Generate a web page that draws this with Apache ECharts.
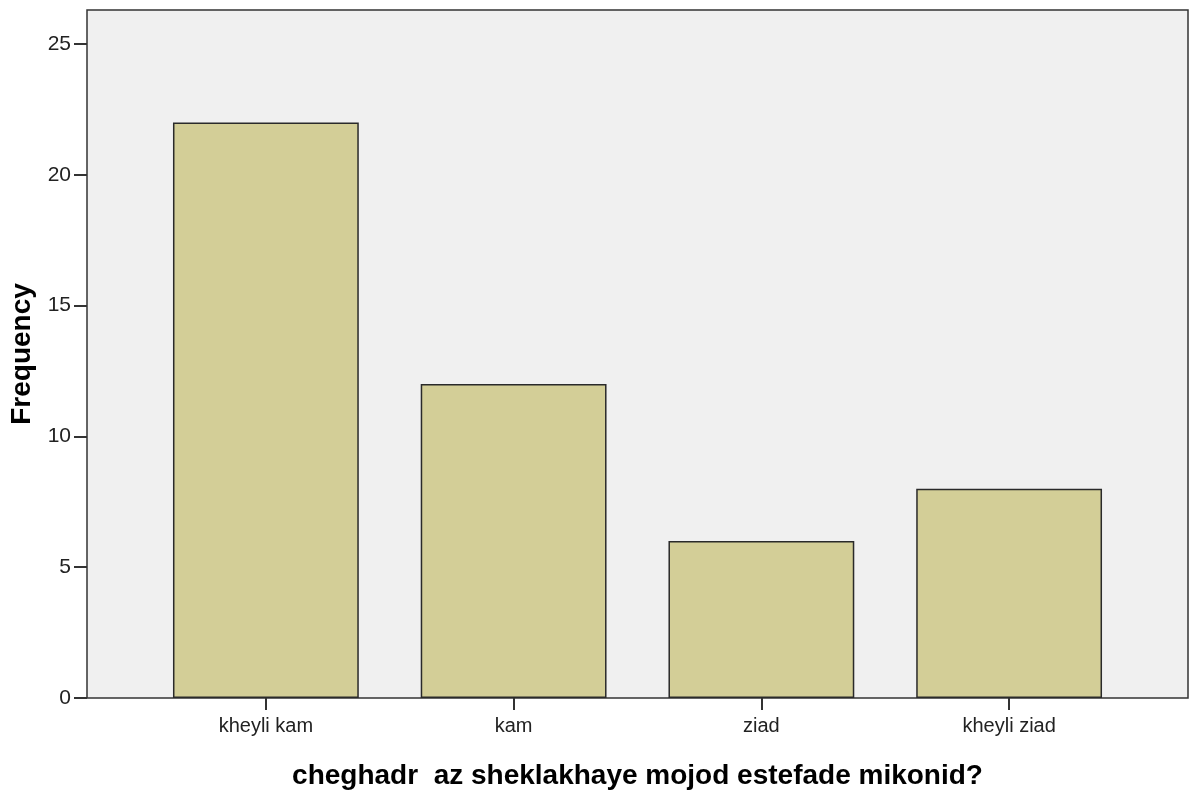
<!DOCTYPE html>
<html>
<head>
<meta charset="utf-8">
<script src="https://cdn.jsdelivr.net/npm/echarts@6/dist/echarts.min.js"></script>
<style>
  html, body { margin: 0; padding: 0; background: #fff; }
  #chart { width: 1195px; height: 793px; }
</style>
</head>
<body>
<div id="chart"></div>
<script>
// categories and counts
let categories = ['kheyli kam', 'kam', 'ziad', 'kheyli ziad']
let frequency = [22, 12, 6, 8]
let yTicks = [0, 5, 10, 15, 20, 25]

let xTitle = 'cheghadr  az sheklakhaye mojod estefade mikonid?'
let yTitle = 'Frequency'

let font = 'Arial, "Liberation Sans", sans-serif'

let option = {
    animation: false,
    backgroundColor: '#ffffff',
    grid: [
        // outer box with the frame and grey fill
        { left: 87, right: 7, top: 10, bottom: 95, show: true, outerBoundsMode: 'none',
          backgroundColor: '#f0f0f0', borderColor: '#333', borderWidth: 1.5 },
        // inner band where the bars sit
        { left: 142, right: 62, top: 10, bottom: 95, outerBoundsMode: 'none' }
    ],
    xAxis: [
        {
            gridIndex: 0, type: 'value', min: 0, max: 1,
            axisLine: { show: false }, axisTick: { show: false },
            axisLabel: { show: false }, splitLine: { show: false },
            name: xTitle, nameLocation: 'middle', nameGap: 64,
            nameTextStyle: { fontFamily: font, fontWeight: 'bold', fontSize: 28, color: '#000' }
        },
        {
            gridIndex: 1, type: 'category', data: categories,
            axisLine: { show: false },
            axisTick: { show: true, alignWithLabel: true, length: 12,
                        lineStyle: { color: '#333', width: 2 } },
            axisLabel: { fontFamily: font, fontSize: 20, color: '#222', margin: 18 }
        }
    ],
    yAxis: [
        {
            gridIndex: 0, type: 'value', min: 0, max: 26.3,
            axisLine: { show: false },
            axisTick: { show: true, length: 13, customValues: yTicks,
                        lineStyle: { color: '#333', width: 2 } },
            axisLabel: { fontFamily: font, fontSize: 21, color: '#222', margin: 16,
                         customValues: yTicks },
            splitLine: { show: false },
            name: yTitle, nameLocation: 'middle', nameGap: 48,
            nameTextStyle: { fontFamily: font, fontWeight: 'bold', fontSize: 28, color: '#000' }
        },
        {
            gridIndex: 1, type: 'value', min: 0, max: 26.3, show: false
        }
    ],
    series: [
        {
            type: 'bar',
            xAxisIndex: 1,
            yAxisIndex: 1,
            data: frequency,
            barWidth: '75%',
            itemStyle: { color: '#d3ce97', borderColor: '#2a2a2a', borderWidth: 1.5 }
        }
    ]
}

let chartDom = echarts.init(document.querySelector('#chart'))
chartDom.setOption(option)
</script>
</body>
</html>
